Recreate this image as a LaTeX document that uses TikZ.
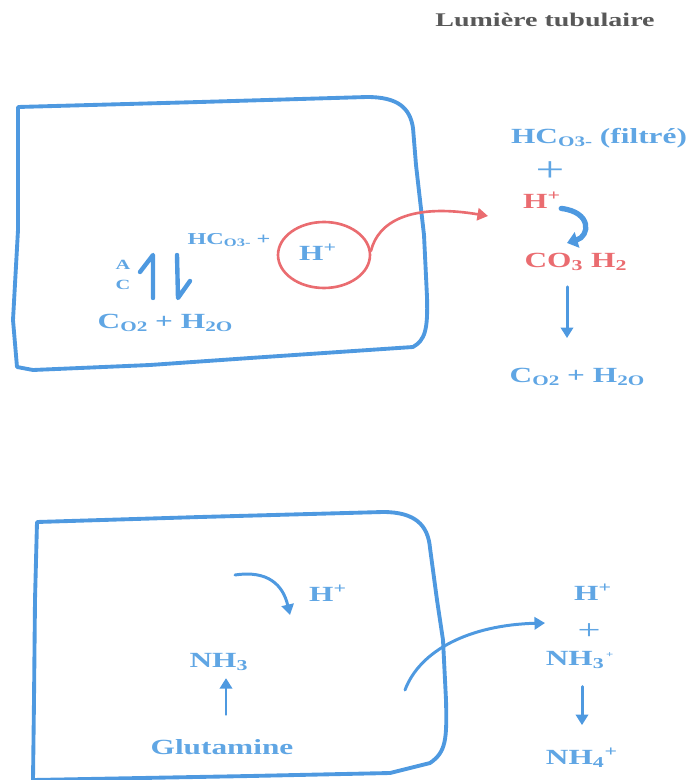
\documentclass[tikz,border=0pt]{standalone}
\usepackage{fontspec}
\setmainfont{Liberation Serif}
\newfontfamily\widefam{Liberation Serif}[FakeStretch=1.45]
\usetikzlibrary{arrows.meta,shapes.geometric}
\definecolor{wallblue}{RGB}{78,153,224}
\definecolor{txtblue}{RGB}{96,166,228}
\definecolor{ionred}{RGB}{234,108,112}
\definecolor{titlegray}{RGB}{88,88,88}
\newcommand{\chemfont}{\widefam\fontsize{12.3}{14}\selectfont\bfseries}
\newcommand{\lo}[1]{\raisebox{-0.3ex}{\fontsize{8.3}{9}\selectfont #1}}
\begin{document}
\begin{tikzpicture}[x=0.02cm,y=-0.02cm,line cap=round,line join=round,
  wall/.style={draw=wallblue,line width=2.2pt},
  chem/.style={text=txtblue,font=\chemfont,inner sep=0pt},
  ion/.style={text=ionred,font=\chemfont,inner sep=0pt},
  flow/.style={draw=wallblue,line width=1.7pt,-{Triangle[width=7pt,length=6pt]}},
  harp/.style={draw=wallblue,line width=2.5pt}]
  \useasboundingbox (0,0) rectangle (690,780);
  \node[font=\widefam\fontsize{11}{13}\selectfont\bfseries,text=titlegray,inner sep=0pt] (lumen) at (545,20) {Lumière tubulaire};
  % cellule du haut
  \draw[wall] (18,107) -- (200,102) -- (367,97) .. controls (398,97) and (410,108) .. (413,128)
    -- (416,165) -- (424,235) -- (427,297) .. controls (428,330) and (425,340) .. (413,347)
    -- (250,358) -- (150,365) -- (33,370) -- (17,367) -- (13,320) -- (18,230) -- cycle;
  \node[chem,font=\widefam\fontsize{9.5}{10}\selectfont\bfseries] (hcoin) at (229,240) {HC{\fontsize{6.5}{7}\selectfont\raisebox{-0.3ex}{O3-}} +};
  \node[ellipse,draw=ionred,line width=1.5pt,minimum width=1.84cm,minimum height=1.32cm,
    ion,inner sep=0pt] (hcell) at (324,255) {};
  \node[chem] (hcellt) at (318,252) {H\textsuperscript{+}};
  \node[chem,font=\widefam\fontsize{8}{9}\selectfont\bfseries] (enza) at (123,265) {A};
  \node[chem,font=\widefam\fontsize{8}{9}\selectfont\bfseries] (enzc) at (123,285) {C};
  \draw[harp] (153,298) -- (153,255) -- (140,272);
  \draw[harp] (177,255) -- (178,298) -- (190,281);
  \node[chem] (co2in) at (165,323) {C\lo{O2} + H\lo{2O}};
  \coordinate (redtip) at (488,216);
  \draw[draw=ionred,line width=1.5pt,-{Triangle[width=7pt,length=6pt]}]
    (hcell.5) .. controls (378,222) and (410,203) .. (redtip);
  % lumiere, haut
  \node[chem] (hcof) at (599,138) {HC\lo{O3-} (filtré)};
  \node[chem,font=\widefam\fontsize{20}{20}\selectfont] (plusa) at (550,172) {+};
  \node[ion] (hlum) at (542,200) {H\textsuperscript{+}};
  \node[ion] (acid) at (576,262) {CO\textsubscript{3} H\textsubscript{2}};
  \node[chem] (co2out) at (577,377) {C\lo{O2} + H\lo{2O}};
  \coordinate (hooktip) at (567,243);
  \draw[draw=wallblue,line width=3pt,-{Triangle[width=9pt,length=6pt]}]
    (hlum.south east) .. controls (592,212) and (590,236) .. (hooktip);
  \draw[flow,shorten <=9pt,shorten >=17pt] (567,0 |- acid.south) -- (567,0 |- co2out.north);
  % cellule du bas
  \draw[wall] (37,522) -- (200,517) -- (383,512) .. controls (415,512) and (428,525) .. (430,548)
    -- (437,600) -- (443,640) -- (446,700) .. controls (447,740) and (446,752) .. (430,763)
    -- (390,773) -- (250,776) -- (33,780) -- (34,700) -- (35,600) -- cycle;
  \node[chem] (hin) at (328,593) {H\textsuperscript{+}};
  \coordinate (hookbs) at (235,575);
  \coordinate (hookbt) at (290,615);
  \draw[flow] (hookbs) .. controls (268,570) and (283,585) .. (hookbt);
  \node[chem] (nhin) at (219,662) {NH\textsubscript{3}};
  \node[chem] (glut) at (222,747) {Glutamine};
  \draw[flow,shorten <=14pt,shorten >=4pt] (226,0 |- glut.north) -- (226,0 |- nhin.south);
  \coordinate (exitst) at (405,690);
  \coordinate (exittip) at (545,623);
  \draw[flow] (exitst) .. controls (420,650) and (470,625) .. (exittip);
  % lumiere, bas
  \node[chem] (hout) at (593,592) {H\textsuperscript{+}};
  \node[chem,font=\widefam\fontsize{16}{16}\selectfont] (plusb) at (589,632) {+};
  \node[chem] (nhout) at (580,660) {NH\textsubscript{3}\textsuperscript{\tiny\,+}};
  \node[chem] (nh4) at (582,758) {NH\textsubscript{4}\textsuperscript{+}};
  \draw[flow,shorten <=10pt,shorten >=13pt] (582,0 |- nhout.south) -- (582,0 |- nh4.north);
\end{tikzpicture}
\end{document}
